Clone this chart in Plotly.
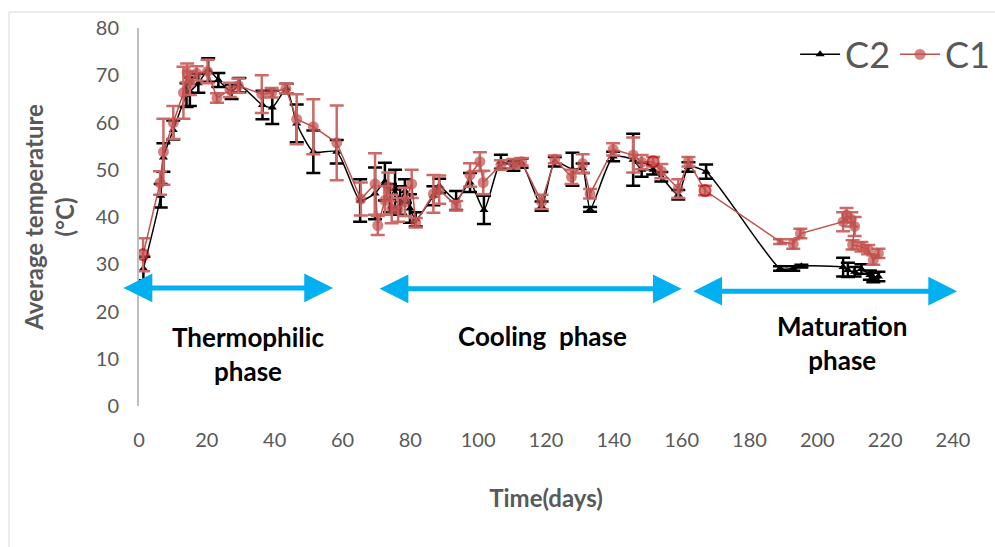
import plotly.graph_objects as go

# ---------------- data ----------------
c2_days = [1.3, 6.4, 7.2, 10.1, 14.0, 15.0, 17.5, 20.4, 23.4, 27.3, 29.6, 36.4, 39.3, 43.5,
           46.5, 51.4, 58.3, 65.2, 69.6, 72.5, 74.0, 75.5, 77.0, 78.4, 79.9, 81.6, 86.8,
           88.5, 93.5, 97.6, 101.7, 106.7, 110.4, 112.8, 118.7, 122.6, 127.8, 130.8, 133.0,
           139.8, 145.7, 148.2, 151.6, 154.0, 159.0, 162.0, 167.2, 189.0, 192.9, 195.3,
           207.6, 209.0, 211.0, 213.0, 215.5, 216.5, 218.0]
c2_temp = [29.1, 44.5, 52.6, 58.4, 65.8, 66.5, 68.3, 71.1, 69.0, 66.5, 67.9, 63.7, 63.2, 67.2,
           59.8, 53.8, 53.8, 43.5, 45.0, 47.5, 44.0, 46.0, 43.5, 45.5, 41.8, 39.5, 44.5,
           46.6, 43.5, 47.3, 41.5, 51.7, 50.8, 51.4, 42.3, 51.7, 50.1, 50.3, 41.6,
           52.8, 52.1, 50.0, 50.0, 48.5, 44.7, 50.6, 49.6, 29.1, 29.1, 29.6,
           29.4, 28.8, 28.4, 29.0, 27.7, 27.2, 27.4]
c2_err = [2.5, 2.5, 3.0, 2.0, 2.5, 3.0, 2.0, 2.5, 1.5, 1.5, 1.5, 3.0, 3.5, 1.0,
          4.0, 4.5, 2.5, 4.5, 5.5, 4.0, 3.0, 4.0, 3.0, 2.5, 3.0, 1.5, 2.0,
          1.5, 2.0, 2.0, 3.0, 1.5, 1.0, 1.0, 1.0, 1.0, 3.5, 1.0, 0.5,
          1.0, 5.5, 1.5, 1.0, 1.0, 1.0, 1.0, 1.5, 0.5, 0.5, 0.3,
          2.0, 1.5, 1.0, 1.0, 1.0, 1.0, 1.0]

c1_days = [1.2, 6.2, 7.2, 10.1, 13.1, 14.2, 15.0, 17.0, 20.2, 23.0, 26.8, 29.3, 36.2, 39.1,
           43.3, 46.5, 51.4, 58.3, 65.4, 69.6, 70.4, 72.5, 73.5, 74.5, 76.4, 78.4, 80.4,
           81.6, 86.8, 88.5, 93.5, 97.6, 100.5, 101.5, 106.7, 110.4, 112.8, 118.7, 122.6,
           127.5, 130.8, 133.0, 139.8, 145.7, 148.2, 151.6, 154.0, 159.0, 162.0, 166.9,
           189.0, 192.9, 195.0, 207.6, 208.6, 210.0, 211.0, 210.4, 213.0, 215.0, 216.5, 218.0]
c1_temp = [32.0, 47.2, 53.8, 60.0, 66.3, 70.5, 68.3, 70.4, 70.8, 65.2, 66.9, 67.8, 66.0, 66.3,
           67.2, 60.7, 59.1, 55.7, 43.8, 47.0, 38.2, 43.5, 46.4, 41.7, 41.5, 43.2, 47.0,
           38.8, 44.9, 45.8, 42.4, 48.9, 51.7, 47.3, 51.0, 51.3, 51.7, 43.2, 52.2,
           48.5, 51.3, 44.9, 54.3, 53.1, 51.6, 51.7, 49.7, 46.0, 51.7, 45.6,
           34.8, 34.3, 36.5, 39.0, 40.4, 39.5, 38.0, 34.1, 33.7, 33.1, 30.9, 32.3]
c1_err = [3.5, 2.5, 7.0, 3.5, 5.5, 2.0, 2.5, 1.5, 2.5, 1.0, 1.5, 1.5, 4.0, 1.0,
          1.0, 5.3, 5.8, 7.9, 3.5, 6.5, 2.0, 3.0, 3.0, 3.0, 2.5, 3.0, 3.0,
          1.0, 4.0, 3.0, 1.0, 2.5, 2.0, 2.5, 1.0, 1.0, 0.8, 1.5, 0.8,
          1.5, 2.0, 1.0, 1.3, 3.7, 1.5, 1.0, 1.5, 2.0, 1.0, 1.0,
          0.5, 1.0, 1.0, 2.0, 1.5, 1.5, 2.0, 1.0, 1.0, 1.0, 1.0, 1.0]

phase_labels = ["Thermophilic<br>phase", "Cooling  phase", "Maturation<br>phase"]
phase_label_x = [32.1, 119.1, 207.3]
phase_label_y = [11.1, 14.8, 13.4]
phase_start = [-5, 70.5, 163]
phase_end = [57.2, 160, 241.2]
phase_level = [25.0, 24.8, 24.3]

x_ticks = list(range(0, 241, 20))
y_ticks = list(range(0, 81, 10))

# ---------------- styling ----------------
RED = "#C0504D"
RED_BAR = "#CD6A67"
GRAY = "#595959"
BLUE = "#00B0F0"
FONT = "Lato, Carlito, Calibri, sans-serif"

# highlighted (outlined) points of C1
c1_line_col = [RED] * len(c1_days)
c1_line_w = [0] * len(c1_days)
for i in (0, 45, 49):
    c1_line_col[i] = "#C00000"
    c1_line_w[i] = 2
c1_sizes = [11] * len(c1_days)
c1_sizes[50] = 7

fig = go.Figure()
fig.add_trace(go.Scatter(
    x=c2_days, y=c2_temp, name="C2", mode="lines+markers",
    line=dict(color="black", width=1.5, shape="spline", smoothing=0.6),
    marker=dict(symbol="triangle-up", size=8, color="black"),
    error_y=dict(type="data", array=c2_err, visible=True, color="black", thickness=2.5, width=7),
))
fig.add_trace(go.Scatter(
    x=c1_days, y=c1_temp, name="C1", mode="lines+markers",
    line=dict(color=RED, width=1.5),
    marker=dict(symbol="circle", size=c1_sizes, color=RED,
                line=dict(color=c1_line_col, width=c1_line_w)),
    error_y=dict(type="data", array=c1_err, visible=True, color=RED_BAR, thickness=2.5, width=7),
))

annotations = []
for s, e, lv in zip(phase_start, phase_end, phase_level):
    annotations.append(dict(
        x=e, y=lv, ax=s, ay=lv, xref="x", yref="y", axref="x", ayref="y",
        text="", showarrow=True, arrowhead=2, startarrowhead=2, arrowside="end+start",
        arrowsize=1.15, startarrowsize=1.15, arrowwidth=5, arrowcolor=BLUE,
    ))
for t, xx, yy in zip(phase_labels, phase_label_x, phase_label_y):
    annotations.append(dict(
        x=xx, y=yy, xref="x", yref="y", text="<b>" + t + "</b>", showarrow=False,
        font=dict(family=FONT, size=26, color="black"), align="center",
    ))

fig.update_layout(
    width=995, height=547,
    margin=dict(l=139, r=42, t=28, b=141, autoexpand=False),
    paper_bgcolor="white", plot_bgcolor="white",
    font=dict(family=FONT, color=GRAY),
    showlegend=True,
    legend=dict(
        orientation="h", x=0.806, y=0.93, xanchor="left", yanchor="middle",
        font=dict(family=FONT, size=36, color=GRAY), bgcolor="rgba(0,0,0,0)",
        itemwidth=40, traceorder="normal",
    ),
    annotations=annotations,
    shapes=[dict(type="rect", xref="paper", yref="paper", x0=-0.1597, x1=1.2,
                 y0=-0.6, y1=1.0423, line=dict(color="#D9D9D9", width=1), layer="below")],
)
fig.update_xaxes(
    range=[0, 240], tickvals=x_ticks, ticktext=[str(v) for v in x_ticks],
    showgrid=False, zeroline=False, showline=False, ticks="",
    ticklabelstandoff=20,
    tickfont=dict(family=FONT, size=20, color=GRAY),
    title=dict(text="<b>Time(days)</b>", font=dict(family=FONT, size=24, color=GRAY), standoff=40),
)
fig.update_yaxes(
    range=[0, 80], tickvals=y_ticks, ticktext=[str(v) for v in y_ticks],
    showgrid=False, zeroline=False, showline=True, linecolor="#BFBFBF", linewidth=2, ticks="",
    ticklabelstandoff=14,
    tickfont=dict(family=FONT, size=20, color=GRAY),
    title=dict(text="<b>Average temperature<br>(°C)</b>", font=dict(family=FONT, size=24, color=GRAY), standoff=14),
)

fig.write_html("out.html")
